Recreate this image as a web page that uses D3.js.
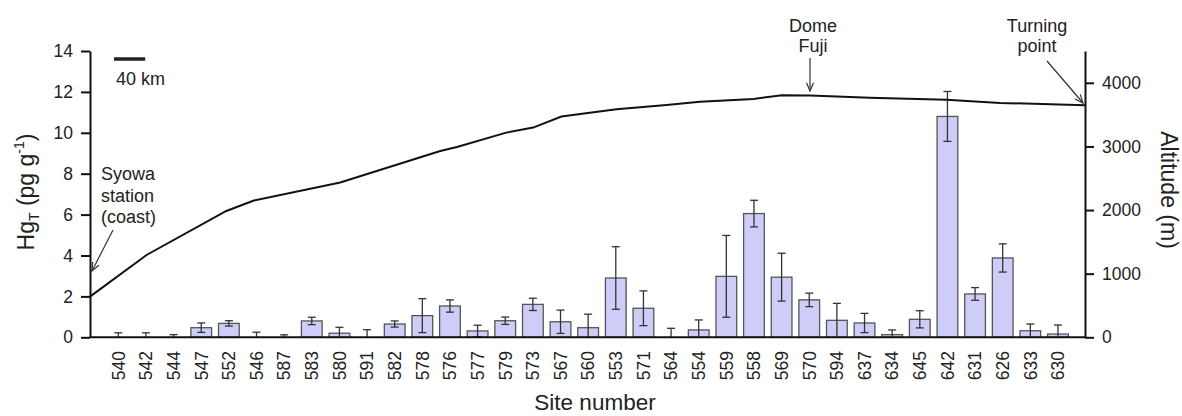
<!DOCTYPE html>
<html>
<head>
<meta charset="utf-8">
<script src="https://cdn.jsdelivr.net/npm/d3@7"></script>
<style>
  body { margin: 0; background: #fff; }
  svg { font-family: "Liberation Sans", Arial, sans-serif; }
</style>
</head>
<body>
<svg width="1182" height="416"></svg>
<script>
// site order along the traverse
const sites = ['540','542','544','547','552','546','587','583','580','591','582','578','576','577','579',
  '573','567','560','553','571','564','554','559','558','569','570','594','637','634','645','642',
  '631','626','633','630'];
// HgT mean (pg/g) and error
const hgValues = [0, 0, 0, 0.47, 0.68, 0, 0, 0.8, 0.2, 0, 0.65, 1.06, 1.53, 0.31, 0.81,
  1.61, 0.76, 0.47, 2.9, 1.42, 0, 0.36, 2.98, 6.05, 2.94, 1.83, 0.83, 0.7, 0.13, 0.88, 10.8,
  2.12, 3.88, 0.32, 0.16];
const hgErrors = [0.22, 0.22, 0.13, 0.23, 0.13, 0.25, 0.12, 0.18, 0.29, 0.37, 0.15, 0.83, 0.3, 0.28, 0.18,
  0.3, 0.57, 0.66, 1.53, 0.85, 0.44, 0.49, 2.0, 0.65, 1.17, 0.33, 0.83, 0.47, 0.23, 0.42, 1.22,
  0.31, 0.69, 0.33, 0.44];
// altitude profile: distance from Syowa (km) and altitude (m)
const distKm = [0, 78, 188, 225, 345, 483, 506, 574, 611, 650, 726, 795, 841, 915, 954, 993,
  1075, 1181, 1255, 1372];
const altitude = [640, 1294, 1986, 2147, 2434, 2927, 2990, 3217, 3296, 3469, 3585, 3652, 3704,
  3746, 3805, 3800, 3764, 3733, 3684, 3648];
const hgTicks = [0, 2, 4, 6, 8, 10, 12, 14];
const altTicks = [0, 1000, 2000, 3000, 4000];

const plotLeft = 90, plotRight = 1085, plotTop = 51, plotBottom = 337.3;
const svg = d3.select('svg');

const x = d3.scaleBand().domain(sites).range([104.5, 1071.8]).paddingInner(0.25).paddingOuter(0.125);
const y = d3.scaleLinear().domain([0, 14]).range([plotBottom, plotTop]);
const yAlt = d3.scaleLinear().domain([0, 4500]).range([plotBottom, plotTop]);
const xDist = d3.scaleLinear().domain([0, 1372]).range([plotLeft, plotRight]);

// bars
svg.append('g').selectAll('rect')
  .data(hgValues)
  .join('rect')
  .attr('x', (d, i) => x(sites[i]))
  .attr('y', d => y(d))
  .attr('width', x.bandwidth())
  .attr('height', d => plotBottom - y(d))
  .attr('fill', '#cdcdf8')
  .attr('stroke', '#555')
  .attr('stroke-width', 1.3);

// error bars
const eb = svg.append('g').attr('stroke', '#333').attr('stroke-width', 1.3);
hgValues.forEach((v, i) => {
  const cx = x(sites[i]) + x.bandwidth() / 2;
  const hi = v + hgErrors[i], lo = Math.max(0, v - hgErrors[i]);
  eb.append('line').attr('x1', cx).attr('x2', cx).attr('y1', y(hi)).attr('y2', y(lo));
  eb.append('line').attr('x1', cx - 4).attr('x2', cx + 4).attr('y1', y(hi)).attr('y2', y(hi));
  if (lo > 0) eb.append('line').attr('x1', cx - 4).attr('x2', cx + 4).attr('y1', y(lo)).attr('y2', y(lo));
});

// altitude line
const line = d3.line().x((d, i) => xDist(distKm[i])).y(d => yAlt(d));
svg.append('path')
  .datum(altitude)
  .attr('d', line)
  .attr('fill', 'none')
  .attr('stroke', '#111')
  .attr('stroke-width', 2);

// axes
const yAxis = svg.append('g')
  .attr('transform', `translate(${plotLeft},0)`)
  .call(d3.axisLeft(y).tickValues(hgTicks).tickSize(9).tickSizeOuter(0).tickPadding(8));
const yAxis2 = svg.append('g')
  .attr('transform', `translate(${plotRight},0)`)
  .call(d3.axisRight(yAlt).tickValues(altTicks).tickFormat(d3.format('d'))
    .tickSize(9).tickSizeOuter(0).tickPadding(8));
[yAxis, yAxis2].forEach(g => {
  g.select('.domain').attr('stroke', '#111').attr('stroke-width', 2);
  g.selectAll('.tick line').attr('stroke', '#111').attr('stroke-width', 2);
  g.selectAll('.tick text').attr('font-size', 17.5).attr('fill', '#222')
    .attr('font-family', '"Liberation Sans", Arial, sans-serif');
});

svg.append('line')
  .attr('x1', plotLeft).attr('x2', plotRight).attr('y1', plotBottom).attr('y2', plotBottom)
  .attr('stroke', '#111').attr('stroke-width', 2);

// site labels
svg.append('g').selectAll('text')
  .data(sites)
  .join('text')
  .attr('transform', d => `translate(${x(d) + x.bandwidth() / 2 + 6.3},351) rotate(-90)`)
  .attr('text-anchor', 'end')
  .attr('font-size', 17.5)
  .attr('fill', '#222')
  .text(d => d);

// axis titles
svg.append('text')
  .attr('x', 595).attr('y', 410)
  .attr('text-anchor', 'middle')
  .attr('font-size', 22.5)
  .attr('fill', '#222')
  .text('Site number');

const yt = svg.append('text')
  .attr('transform', 'translate(34,192) rotate(-90)')
  .attr('text-anchor', 'middle')
  .attr('font-size', 23)
  .attr('fill', '#222');
yt.append('tspan').text('Hg');
yt.append('tspan').attr('font-size', 14).attr('dy', 5).text('T');
yt.append('tspan').attr('dy', -5).text(' (pg g');
yt.append('tspan').attr('font-size', 14).attr('dy', -10).text('-1');
yt.append('tspan').attr('dy', 10).text(')');

svg.append('text')
  .attr('transform', 'translate(1161,190) rotate(90)')
  .attr('text-anchor', 'middle')
  .attr('font-size', 23)
  .attr('fill', '#222')
  .text('Altitude (m)');

// scale bar
svg.append('line')
  .attr('x1', xDist(0) + 24).attr('x2', xDist(43) + 24)
  .attr('y1', 59).attr('y2', 59)
  .attr('stroke', '#222').attr('stroke-width', 3.5);
svg.append('text')
  .attr('x', 116).attr('y', 85)
  .attr('font-size', 18).attr('fill', '#222')
  .text('40 km');

// annotations
function arrow(x1, y1, x2, y2) {
  const g = svg.append('g').attr('stroke', '#333').attr('stroke-width', 1.2).attr('fill', 'none');
  g.append('line').attr('x1', x1).attr('y1', y1).attr('x2', x2).attr('y2', y2);
  const a = Math.atan2(y2 - y1, x2 - x1), L = 9, w = 0.4;
  g.append('path').attr('d',
    `M${x2 - L * Math.cos(a - w)},${y2 - L * Math.sin(a - w)} L${x2},${y2} L${x2 - L * Math.cos(a + w)},${y2 - L * Math.sin(a + w)}`);
}
function label(lines, cx, y0, gap, anchor) {
  const t = svg.append('text').attr('font-size', 18).attr('fill', '#222').attr('text-anchor', anchor);
  lines.forEach((s, i) => t.append('tspan').attr('x', cx).attr('y', y0 + i * gap).text(s));
}
label(['Syowa', 'station', '(coast)'], 101, 180, 21.5, 'start');
arrow(113, 230, 92, 271);
label(['Dome', 'Fuji'], 813, 31.5, 20, 'middle');
arrow(810, 58, 810, 91);
label(['Turning', 'point'], 1037, 31.5, 20, 'middle');
arrow(1047, 61, 1083, 103);
</script>
</body>
</html>
